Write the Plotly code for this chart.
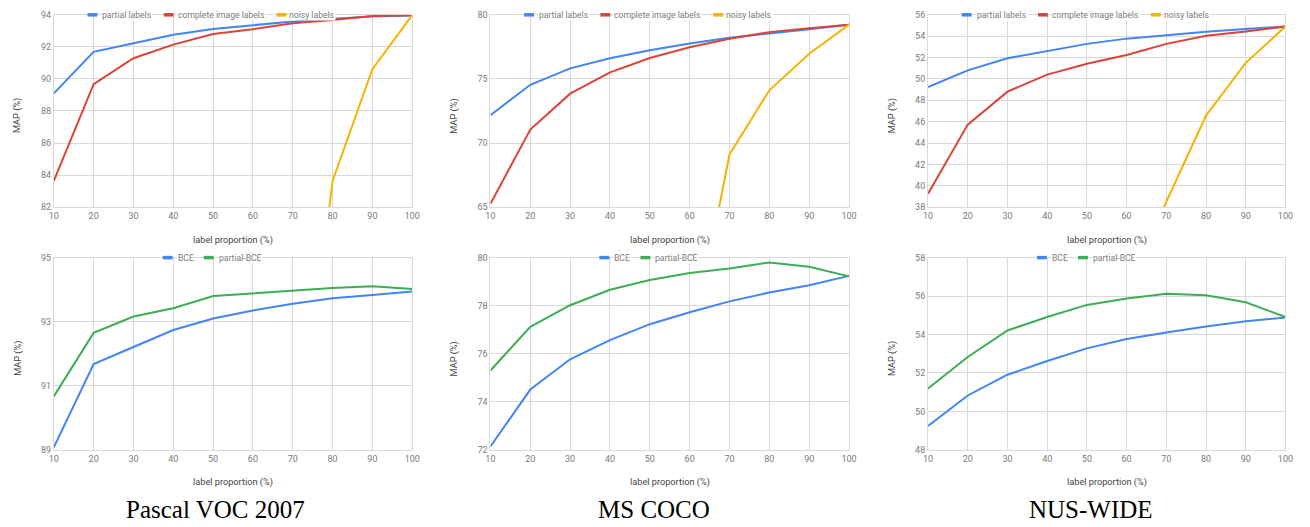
import plotly.graph_objects as go

W, H = 1310, 527

# ---------------- data ----------------
proportion = [10, 20, 30, 40, 50, 60, 70, 80, 90, 100]

voc_partial = [89.1, 91.69, 92.22, 92.76, 93.12, 93.37, 93.58, 93.76, 93.9, 93.96]
voc_complete = [83.63, 89.67, 91.29, 92.14, 92.8, 93.1, 93.47, 93.67, 93.92, 93.98]
voc_noisy = [None, None, None, None, None, None, 63.6, 83.63, 90.61, 93.98]

coco_partial = [72.17, 74.54, 75.82, 76.61, 77.24, 77.76, 78.21, 78.57, 78.88, 79.23]
coco_complete = [65.26, 71.05, 73.85, 75.51, 76.63, 77.47, 78.14, 78.65, 78.95, 79.23]
coco_noisy = [None, None, None, None, None, 53.3, 69.11, 74.11, 76.96, 79.23]

nus_partial = [49.23, 50.8, 51.93, 52.63, 53.28, 53.77, 54.1, 54.41, 54.68, 54.9]
nus_complete = [39.26, 45.72, 48.81, 50.4, 51.41, 52.23, 53.28, 54.04, 54.44, 54.9]
nus_noisy = [None, None, None, None, None, 30.2, 38.5, 46.57, 51.5, 54.9]

voc_bce = [89.08, 91.68, 92.21, 92.74, 93.1, 93.35, 93.56, 93.73, 93.83, 93.94]
voc_partial_bce = [90.67, 92.65, 93.16, 93.42, 93.8, 93.89, 93.97, 94.05, 94.11, 94.02]
coco_bce = [72.14, 74.51, 75.77, 76.57, 77.23, 77.73, 78.18, 78.55, 78.85, 79.24]
coco_partial_bce = [75.3, 77.12, 78.02, 78.66, 79.07, 79.36, 79.55, 79.8, 79.62, 79.22]
nus_bce = [49.25, 50.83, 51.91, 52.62, 53.28, 53.77, 54.11, 54.42, 54.69, 54.89]
nus_partial_bce = [51.19, 52.83, 54.21, 54.91, 55.54, 55.87, 56.12, 56.04, 55.68, 54.91]

datasets = ["Pascal VOC 2007", "MS COCO", "NUS-WIDE"]
top_names = ["partial labels", "complete image labels", "noisy labels"]
bottom_names = ["BCE", "partial-BCE"]

top_series = [
    [voc_partial, voc_complete, voc_noisy],
    [coco_partial, coco_complete, coco_noisy],
    [nus_partial, nus_complete, nus_noisy],
]
bottom_series = [
    [voc_bce, voc_partial_bce],
    [coco_bce, coco_partial_bce],
    [nus_bce, nus_partial_bce],
]

top_ranges = [(82, 94, 2), (65, 80, 5), (38, 56, 2)]
bottom_ranges = [(89, 95, 2), (72, 80, 2), (48, 58, 2)]

# ---------------- style ----------------
BLUE, RED, YELLOW, GREEN = "#4285F4", "#DB4437", "#F4B400", "#3DAE55"
top_colors = [BLUE, RED, YELLOW]
bottom_colors = [BLUE, GREEN]
GRID = "#d9d9d9"
TICK = "#7a7a7a"
TITLE = "#444444"
FONT = "Roboto"

col_px = [(49.3, 411.3), (490.3, 852.5), (932.3, 1293.3)]
row_px = [(10.0, 206.0), (257.5, 453.5)]

def px_x(p):
    return p / W

def px_y(p):
    return 1 - p / H

fig = go.Figure()
layout = dict(
    width=W, height=H,
    margin=dict(l=0, r=0, t=0, b=0),
    paper_bgcolor="white", plot_bgcolor="white",
    showlegend=False,
    font=dict(family=FONT, size=9, color=TICK),
)
annotations = []
shapes = []

# legend layout offsets (px, relative to plot-left): marker start, text start
top_legend = [(34, 48), (111, 124), (225, 237)]
bottom_legend = [(110, 124), (151.5, 165.5)]

panel = 0
for r in range(2):
    for c in range(3):
        panel += 1
        xa = "xaxis" if panel == 1 else f"xaxis{panel}"
        ya = "yaxis" if panel == 1 else f"yaxis{panel}"
        xr = "x" if panel == 1 else f"x{panel}"
        yr = "y" if panel == 1 else f"y{panel}"
        x0, x1 = col_px[c]
        y0, y1 = row_px[r]
        lo, hi, dt = (top_ranges if r == 0 else bottom_ranges)[c]
        layout[xa] = dict(
            domain=[px_x(x0), px_x(x1)], anchor=yr, range=[10, 100],
            tickmode="array", tickvals=proportion, ticktext=[str(v) for v in proportion],
            showgrid=True, gridcolor=GRID, gridwidth=1,
            showline=True, linecolor=GRID, linewidth=1, mirror=True,
            zeroline=False, ticks="", tickfont=dict(size=9, color=TICK, family=FONT),
            fixedrange=True,
        )
        layout[ya] = dict(
            domain=[px_y(y1), px_y(y0)], anchor=xr, range=[lo, hi],
            tick0=lo, dtick=dt,
            showgrid=True, gridcolor=GRID, gridwidth=1,
            showline=True, linecolor=GRID, linewidth=1, mirror=True,
            zeroline=False, ticks="", tickfont=dict(size=9, color=TICK, family=FONT),
            fixedrange=True,
        )
        if r == 0:
            series, names, colors, leg = top_series[c], top_names, top_colors, top_legend
        else:
            series, names, colors, leg = bottom_series[c], bottom_names, bottom_colors, bottom_legend
        for vals, name, col in zip(series, names, colors):
            fig.add_trace(go.Scatter(
                x=proportion, y=vals, mode="lines", name=name,
                line=dict(color=col, width=2), connectgaps=False,
                xaxis=xr, yaxis=yr, showlegend=False,
            ))
        # legend (key swatch + label at the top edge of the plot)
        for (ms, ts), name, col in zip(leg, names, colors):
            annotations.append(dict(
                xref="paper", yref="paper", x=px_x(x0 + ts), y=px_y(y0),
                xanchor="left", yanchor="middle", text=name, showarrow=False,
                font=dict(size=8.6, color=TICK, family=FONT),
                bgcolor="white", borderpad=0,
            ))
            shapes.append(dict(
                type="line", xref="paper", yref="paper",
                x0=px_x(x0 + ms), x1=px_x(x0 + ms + 10), y0=px_y(y0), y1=px_y(y0),
                line=dict(color=col, width=3.5), layer="above",
            ))
        # axis titles
        annotations.append(dict(
            xref="paper", yref="paper", x=px_x((x0 + x1) / 2),
            y=px_y(240 if r == 0 else 486), xanchor="center", yanchor="middle",
            text="label proportion (%)", showarrow=False,
            font=dict(size=9.2, color=TITLE, family=FONT),
        ))
        annotations.append(dict(
            xref="paper", yref="paper", x=px_x(x0 - 37),
            y=px_y((y0 + y1) / 2 + 5), xanchor="center", yanchor="middle",
            text="MAP (%)", textangle=-90, showarrow=False,
            font=dict(size=9.2, color=TITLE, family=FONT),
        ))

# captions
for name, cx in zip(datasets, [213, 655, 1097]):
    annotations.append(dict(
        xref="paper", yref="paper", x=px_x(cx), y=px_y(514),
        xanchor="center", yanchor="middle", text=name, showarrow=False,
        font=dict(size=25, color="black", family="Liberation Serif"),
    ))

layout["annotations"] = annotations
layout["shapes"] = shapes
fig.update_layout(**layout)
fig.write_html("out.html")
